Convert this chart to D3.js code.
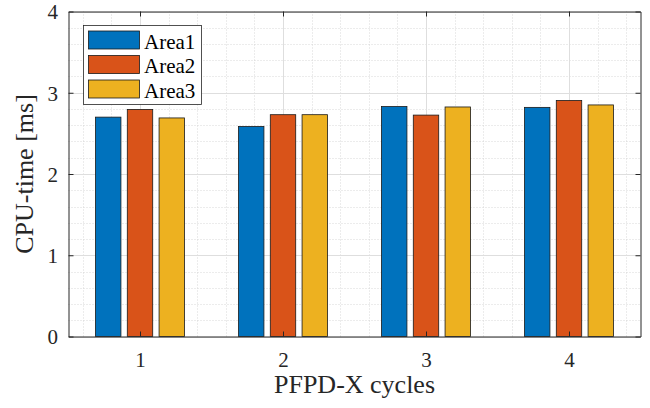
<!DOCTYPE html>
<html><head><meta charset="utf-8">
<script src="https://cdn.jsdelivr.net/npm/d3@7"></script>
<style>body{margin:0;background:#fff;}svg{display:block;} svg text{font-family:"Liberation Serif","Times New Roman",serif !important;}</style>
</head><body>
<svg id="c" width="650" height="408"></svg>
<script>
const categories = [1, 2, 3, 4];
const seriesNames = ["Area1", "Area2", "Area3"];
const area1 = [2.70, 2.585, 2.83, 2.82];
const area2 = [2.795, 2.73, 2.725, 2.905];
const area3 = [2.69, 2.73, 2.825, 2.85];
const yTicks = [0, 1, 2, 3, 4];
const xTicks = [1, 2, 3, 4];
const colors = ["#0072BD", "#D95319", "#EDB120"];
const series = [area1, area2, area3];

const svg = d3.select("#c");
const L = 68.5, R = 640.5, T = 11.5, B = 336.5;
const x = d3.scaleLinear().domain([0.5, 4.5]).range([L, R]);
const y = d3.scaleLinear().domain([0, 4]).range([B, T]);
const font = "Liberation Serif";
const axisCol = "#262626";

svg.append("rect").attr("x", L).attr("y", T).attr("width", R - L).attr("height", B - T).attr("fill", "#fff");

// minor grid
const g = svg.append("g");
const yMinor = d3.range(0.2, 4, 0.2).filter(v => Math.abs(v - Math.round(v)) > 1e-6);
const xMinor = d3.range(0.6, 4.5, 0.2).filter(v => Math.abs(v - Math.round(v)) > 1e-6);
g.selectAll(".ym").data(yMinor).join("line")
  .attr("x1", L).attr("x2", R).attr("y1", d => Math.round(y(d)) + 0.5).attr("y2", d => Math.round(y(d)) + 0.5)
  .attr("stroke", "#cfcfcf").attr("stroke-width", 0.8).attr("stroke-dasharray", "1,2");
g.selectAll(".xm").data(xMinor).join("line")
  .attr("y1", T).attr("y2", B).attr("x1", d => Math.round(x(d)) + 0.5).attr("x2", d => Math.round(x(d)) + 0.5)
  .attr("stroke", "#cfcfcf").attr("stroke-width", 0.8).attr("stroke-dasharray", "1,2");
// major grid
g.selectAll(".yM").data(yTicks).join("line")
  .attr("x1", L).attr("x2", R).attr("y1", d => Math.round(y(d)) + 0.5).attr("y2", d => Math.round(y(d)) + 0.5)
  .attr("stroke", "#dedede").attr("stroke-width", 1);
g.selectAll(".xM").data(xTicks).join("line")
  .attr("y1", T).attr("y2", B).attr("x1", d => Math.round(x(d)) + 0.5).attr("x2", d => Math.round(x(d)) + 0.5)
  .attr("stroke", "#dedede").attr("stroke-width", 1);

// bars
const nS = series.length;
const groupW = Math.min(0.8, nS / (nS + 1.5));
const step = groupW / nS;
const bw = step * 0.8;
series.forEach((s, i) => {
  const off = -groupW / 2 + step * (i + 0.5);
  svg.append("g").selectAll("rect").data(s).join("rect")
    .attr("x", (d, j) => x(categories[j] + off - bw / 2))
    .attr("width", x(bw) - x(0))
    .attr("y", d => y(d))
    .attr("height", d => y(0) - y(d))
    .attr("fill", colors[i])
    .attr("stroke", "#1a1a1a").attr("stroke-width", 0.8);
});

// axes box with inward ticks
const axB = svg.append("g").attr("transform", `translate(0,${B})`)
  .call(d3.axisBottom(x).tickValues(xTicks).tickSizeInner(-5).tickSizeOuter(0).tickFormat(d3.format("d")));
const axT = svg.append("g").attr("transform", `translate(0,${T})`)
  .call(d3.axisTop(x).tickValues(xTicks).tickSizeInner(-5).tickSizeOuter(0).tickFormat(""));
const axL = svg.append("g").attr("transform", `translate(${L},0)`)
  .call(d3.axisLeft(y).tickValues(yTicks).tickSizeInner(-5).tickSizeOuter(0).tickFormat(d3.format("d")));
const axR = svg.append("g").attr("transform", `translate(${R},0)`)
  .call(d3.axisRight(y).tickValues(yTicks).tickSizeInner(-5).tickSizeOuter(0).tickFormat(""));
[axB, axT, axL, axR].forEach(a => {
  a.attr("font-family", font).attr("font-size", 21);
  a.select(".domain").attr("stroke", axisCol).attr("stroke-width", 1);
  a.selectAll(".tick line").attr("stroke", axisCol).attr("stroke-width", 1);
  a.selectAll("text").style("font-family", font).style("font-size", "21px").attr("fill", axisCol);
});
axB.selectAll("text").attr("dy", null).attr("y", 30.5);
axL.selectAll("text").attr("x", -10.5).attr("dy", "0.35em");

// axis labels
svg.append("text").attr("x", (L + R) / 2).attr("y", 393).attr("text-anchor", "middle")
  .style("font-family", font).style("font-size", "26px").attr("fill", axisCol).text("PFPD-X cycles");
svg.append("text").attr("transform", `translate(33,${(T + B) / 2}) rotate(-90)`).attr("text-anchor", "middle")
  .style("font-family", font).style("font-size", "26px").attr("fill", axisCol).text("CPU-time [ms]");

// legend
const lg = svg.append("g");
lg.append("rect").attr("x", 83.5).attr("y", 25.5).attr("width", 118).attr("height", 79)
  .attr("fill", "#fff").attr("stroke", "#262626").attr("stroke-width", 0.8);
seriesNames.forEach((n, i) => {
  const yy = 31 + i * 24.5;
  lg.append("rect").attr("x", 88.5).attr("y", yy).attr("width", 51).attr("height", 18)
    .attr("fill", colors[i]).attr("stroke", "#1a1a1a").attr("stroke-width", 0.8);
  lg.append("text").attr("x", 144).attr("y", yy + 17.5)
    .style("font-family", font).style("font-size", "21px").attr("fill", "#000").text(n);
});
</script>
</body></html>
